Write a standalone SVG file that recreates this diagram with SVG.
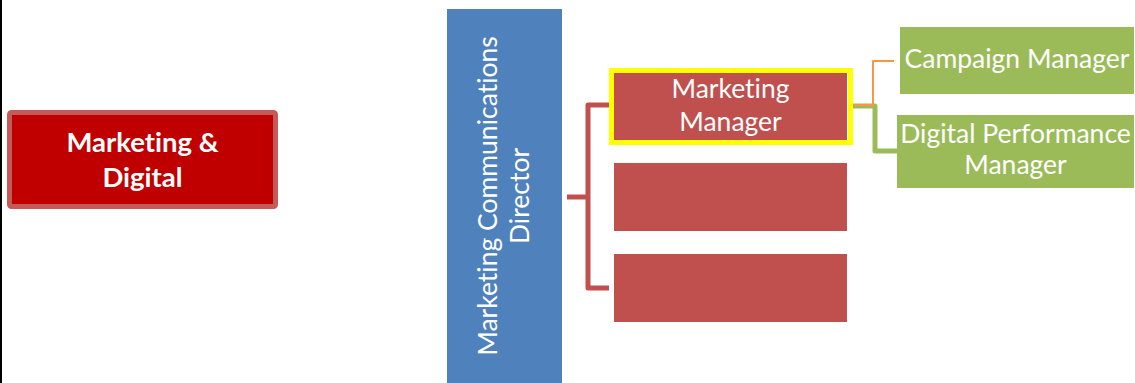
<svg xmlns="http://www.w3.org/2000/svg" width="1135" height="383" viewBox="0 0 1135 383">
  <style>
    .lbl { font-family: Lato, "Open Sans", "Liberation Sans", sans-serif; fill: #ffffff; text-anchor: middle; font-size: 26.5px; font-variant-ligatures: none; }
    .bold { font-weight: bold; font-size: 27.5px; }
    .red { fill: #C0504D; }
    .green { fill: #9BBB59; }
    .blue { fill: #4F81BD; }
    .conn { fill: none; stroke-linejoin: round; stroke-linecap: butt; }
  </style>

  <rect width="1135" height="383" fill="#ffffff"/>
  <!-- page edge on the left -->
  <rect x="0" y="0" width="2" height="383" fill="#000000"/>

  <g id="marketing-digital">
    <rect x="9.5" y="112.5" width="266" height="94" rx="2" fill="#C00000" stroke="#C55A5A" stroke-width="5"/>
    <text class="lbl bold" x="142.5" y="152">Marketing &amp;</text>
    <text class="lbl bold" x="142.5" y="187">Digital</text>
  </g>

  <g id="director">
    <rect class="blue" x="447" y="9" width="115" height="374"/>
    <g transform="translate(504.5,196) rotate(-90)">
      <text class="lbl" x="0" y="-7.5">Marketing Communications</text>
      <text class="lbl" x="0" y="24.5">Director</text>
    </g>
  </g>

  <g id="connectors">
    <!-- director to managers -->
    <path class="conn" d="M567,197 H588" stroke="#C0504D" stroke-width="5"/>
    <path class="conn" d="M609,105 H588 V288 H609" stroke="#C0504D" stroke-width="5"/>
    <!-- marketing manager to reports -->
    <path class="conn" d="M853,106 H875 V151 H898" stroke="#9BBB59" stroke-width="5"/>
    <path class="conn" d="M853,105 H873 V61 H894" stroke="#F79646" stroke-width="2"/>
  </g>

  <g id="marketing-manager">
    <rect class="red" x="614" y="72" width="233" height="68"/>
    <rect x="611.5" y="70.5" width="239" height="72" fill="none" stroke="#FFFF00" stroke-width="5"/>
    <text class="lbl" x="730.5" y="98">Marketing</text>
    <text class="lbl" x="730.5" y="131">Manager</text>
  </g>

  <g id="manager-2">
    <rect class="red" x="614" y="163" width="233" height="68"/>
  </g>

  <g id="manager-3">
    <rect class="red" x="614" y="254" width="233" height="68"/>
  </g>

  <g id="campaign-manager">
    <rect class="green" x="900" y="27" width="234" height="67"/>
    <text class="lbl" x="1017" y="68">Campaign Manager</text>
  </g>

  <g id="digital-performance-manager">
    <rect class="green" x="897" y="115" width="237" height="73"/>
    <text class="lbl" x="1015.5" y="143">Digital Performance</text>
    <text class="lbl" x="1015.5" y="174">Manager</text>
  </g>
</svg>
